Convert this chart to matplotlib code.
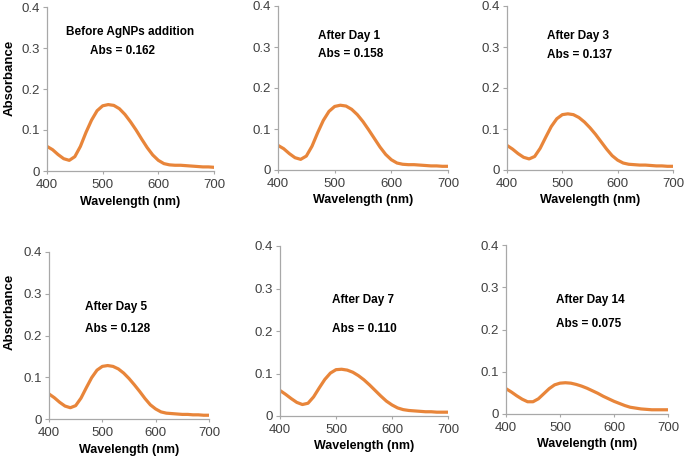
import numpy as np
import matplotlib.pyplot as plt

plt.rcParams['font.family'] = ['Liberation Sans', 'DejaVu Sans']

# ==============================
# DATA
# ==============================
wavelength = [400, 410, 420, 430, 440, 450, 460, 470, 480, 490, 500, 510, 520, 530, 540, 550,
              560, 570, 580, 590, 600, 610, 620, 630, 640, 650, 660, 670, 680, 690, 700]

abs_before = [0.060, 0.052, 0.040, 0.030, 0.026, 0.035, 0.060, 0.094, 0.124, 0.147, 0.159, 0.162,
              0.160, 0.152, 0.138, 0.120, 0.100, 0.078, 0.057, 0.039, 0.026, 0.018, 0.015, 0.014,
              0.014, 0.013, 0.012, 0.011, 0.010, 0.010, 0.009]
abs_day1 = [0.060, 0.052, 0.040, 0.030, 0.026, 0.034, 0.058, 0.091, 0.121, 0.143, 0.155, 0.158,
            0.156, 0.148, 0.135, 0.118, 0.098, 0.077, 0.056, 0.038, 0.025, 0.017, 0.014, 0.013,
            0.013, 0.012, 0.011, 0.010, 0.010, 0.009, 0.009]
abs_day3 = [0.060, 0.051, 0.040, 0.031, 0.027, 0.033, 0.053, 0.080, 0.106, 0.125, 0.135, 0.137,
            0.135, 0.128, 0.117, 0.103, 0.087, 0.069, 0.051, 0.035, 0.024, 0.017, 0.014, 0.013,
            0.012, 0.012, 0.011, 0.010, 0.010, 0.009, 0.009]
abs_day5 = [0.060, 0.051, 0.040, 0.031, 0.027, 0.032, 0.050, 0.075, 0.099, 0.117, 0.126, 0.128,
            0.126, 0.120, 0.110, 0.097, 0.082, 0.066, 0.049, 0.034, 0.024, 0.017, 0.014, 0.013,
            0.012, 0.011, 0.011, 0.010, 0.010, 0.009, 0.009]
abs_day7 = [0.060, 0.051, 0.041, 0.032, 0.027, 0.030, 0.045, 0.066, 0.086, 0.101, 0.109, 0.110,
            0.108, 0.103, 0.095, 0.085, 0.073, 0.060, 0.047, 0.035, 0.026, 0.019, 0.015, 0.013,
            0.012, 0.011, 0.010, 0.010, 0.009, 0.009, 0.009]
abs_day14 = [0.060, 0.052, 0.043, 0.035, 0.029, 0.029, 0.036, 0.048, 0.060, 0.069, 0.073, 0.074,
             0.073, 0.070, 0.066, 0.061, 0.055, 0.049, 0.042, 0.036, 0.030, 0.025, 0.020, 0.016,
             0.014, 0.012, 0.011, 0.010, 0.010, 0.010, 0.010]

series = [abs_before, abs_day1, abs_day3, abs_day5, abs_day7, abs_day14]
titles = ["Before AgNPs addition", "After Day 1", "After Day 3",
          "After Day 5", "After Day 7", "After Day 14"]
abs_labels = ["Abs = 0.162", "Abs = 0.158", "Abs = 0.137",
              "Abs = 0.128", "Abs = 0.110", "Abs = 0.075"]

# ==============================
# LAYOUT (pixel boxes: left, right, top, bottom)
# ==============================
W, H = 685, 458
boxes = [(47, 214, 7, 171), (278, 448, 6, 170), (507, 673, 6, 170),
         (49, 209, 252, 419), (280, 448, 246, 416), (506, 668, 245, 414)]

# label positions in axes fraction: (x_title, y_title, x_abs, y_abs, ha)
label_pos = [(0.50, 0.85, 0.45, 0.73, "center"),
             (0.235, 0.82, 0.235, 0.71, "left"),
             (0.24, 0.82, 0.24, 0.70, "left"),
             (0.225, 0.67, 0.225, 0.54, "left"),
             (0.31, 0.68, 0.31, 0.51, "left"),
             (0.31, 0.675, 0.31, 0.53, "left")]
# Absorbance label anchor (axes fraction x, y)
ylabel_pos = {0: (-0.19, 0.57), 3: (-0.21, 0.64)}

fig = plt.figure(figsize=(W / 100, H / 100), dpi=100)

for i, (l, r, t, b) in enumerate(boxes):
    ax = fig.add_axes([l / W, 1 - b / H, (r - l) / W, (b - t) / H])
    ax.plot(wavelength, series[i], color="#E8853A", lw=2.3, solid_capstyle="round")
    ax.set_xlim(400, 700)
    ax.set_ylim(0, 0.4)
    ax.set_xticks([400, 500, 600, 700])
    ax.set_yticks([0, 0.1, 0.2, 0.3, 0.4])
    ax.set_yticklabels(["0", "0.1", "0.2", "0.3", "0.4"])
    for s in ["top", "right"]:
        ax.spines[s].set_visible(False)
    for s in ["left", "bottom"]:
        ax.spines[s].set_color("#A8A8A8")
        ax.spines[s].set_linewidth(0.9)
    ax.tick_params(axis="y", length=3, color="#A8A8A8", labelsize=9.5,
                   labelcolor="#404040", pad=2)
    ax.tick_params(axis="x", length=2, color="#A8A8A8", labelsize=9.5,
                   labelcolor="#404040", pad=4)
    ax.set_xlabel("Wavelength (nm)", fontsize=9, fontweight="bold", labelpad=3)
    if i in ylabel_pos:
        ax.set_ylabel("Absorbance", fontsize=9.5, fontweight="bold")
        ax.yaxis.set_label_coords(*ylabel_pos[i])

    xt, yt, xa, ya, ha = label_pos[i]
    ax.text(xt, yt, titles[i], transform=ax.transAxes, ha=ha, va="center",
            fontsize=8.5, fontweight="bold")
    ax.text(xa, ya, abs_labels[i], transform=ax.transAxes, ha=ha, va="center",
            fontsize=8.5, fontweight="bold")

plt.savefig("out.png", dpi=100)
